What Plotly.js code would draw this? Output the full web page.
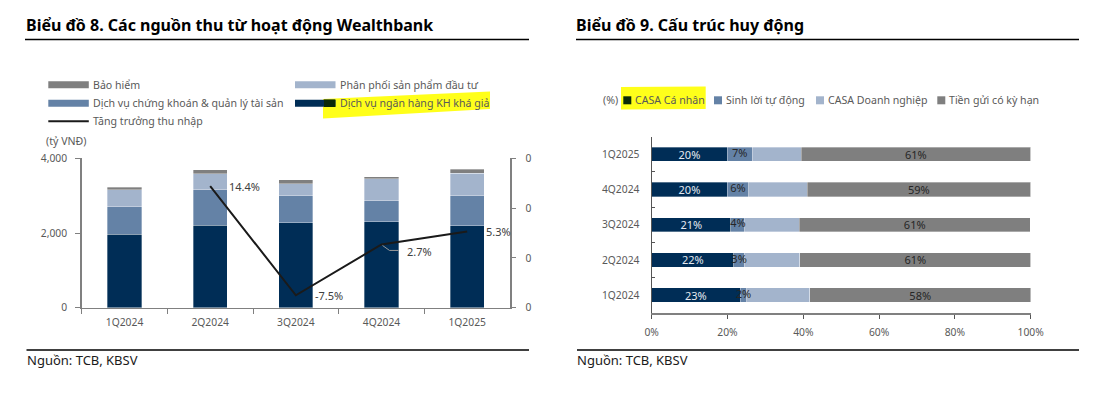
<!DOCTYPE html>
<html>
<head>
<meta charset="utf-8">
<script src="https://cdn.plot.ly/plotly-3.0.1.min.js"></script>
<style>
html,body{margin:0;padding:0;background:#ffffff;}
#chart{width:1095px;height:395px;}
</style>
</head>
<body>
<div id="chart"></div>
<script>
// ---------- Data: Biểu đồ 8 ----------
const quarters = ['1Q2024', '2Q2024', '3Q2024', '4Q2024', '1Q2025'];
const privateBanking = [1973, 2214, 2268, 2295, 2188];   // Dịch vụ ngân hàng KH khá giả
const securities = [733, 938, 723, 571, 812];             // Dịch vụ chứng khoán & quản lý tài sản
const distribution = [455, 437, 322, 580, 598];           // Phân phối sản phẩm đầu tư
const insurance = [62, 107, 107, 63, 107];                // Bảo hiểm
const incomeGrowth = [null, 14.4, -7.5, 2.7, 5.3];        // Tăng trưởng thu nhập (%)
const leftTicks = [0, 2000, 4000];
const rightTickVals = [-10, 0, 10, 20];
const rightTickText = ['0', '0', '0', '0'];
const names8 = {
  ins: 'Bảo hiểm',
  dist: 'Phân phối sản phẩm đầu tư',
  sec: 'Dịch vụ chứng khoán & quản lý tài sản',
  pb: 'Dịch vụ ngân hàng KH khá giả',
  growth: 'Tăng trưởng thu nhập'
};

// ---------- Data: Biểu đồ 9 ----------
const fundQuarters = ['1Q2024', '2Q2024', '3Q2024', '4Q2024', '1Q2025'];
const casaIndividual = [23.3, 21.7, 20.9, 19.9, 19.9];
const autoEarning = [1.8, 2.7, 3.7, 5.7, 6.6];
const casaCorporate = [16.6, 14.7, 14.3, 15.4, 12.9];
const termDeposits = [58.3, 60.9, 61.0, 59.0, 60.6];
const pctTicks = [0, 20, 40, 60, 80, 100];
const pctTickText = ['0%', '20%', '40%', '60%', '80%', '100%'];
const names9 = ['CASA Cá nhân', 'Sinh lời tự động', 'CASA Doanh nghiệp', 'Tiền gửi có kỳ hạn'];

// ---------- Styling ----------
const W = 1095, H = 395;
const px = x => x / W;
const py = y => 1 - y / H;
const C_DARK = '#002D56', C_MED = '#6482A6', C_LIGHT = '#A3B4CC', C_GRAY = '#7F7F7F';
const FONT = 'Noto Sans';
const TXT = '#595959';
const AXC = '#808080';
const FS = 10.3;
const LFS = 10.6;

const pctLabel = arr => arr.map(v => Math.round(v) + '%');
const segLine = {color: 'rgba(255,255,255,0.55)', width: 0.6};

const traces = [
  {type: 'bar', x: quarters, y: privateBanking, name: names8.pb, marker: {color: C_DARK, line: segLine}, width: 0.4, xaxis: 'x', yaxis: 'y', hoverinfo: 'skip'},
  {type: 'bar', x: quarters, y: securities, name: names8.sec, marker: {color: C_MED, line: segLine}, width: 0.4, xaxis: 'x', yaxis: 'y', hoverinfo: 'skip'},
  {type: 'bar', x: quarters, y: distribution, name: names8.dist, marker: {color: C_LIGHT, line: segLine}, width: 0.4, xaxis: 'x', yaxis: 'y', hoverinfo: 'skip'},
  {type: 'bar', x: quarters, y: insurance, name: names8.ins, marker: {color: C_GRAY, line: segLine}, width: 0.4, xaxis: 'x', yaxis: 'y', hoverinfo: 'skip'},
  {type: 'scatter', mode: 'lines', x: quarters, y: incomeGrowth, name: names8.growth, line: {color: '#1a1a1a', width: 2}, xaxis: 'x', yaxis: 'y2', hoverinfo: 'skip'},

  {type: 'bar', orientation: 'h', y: fundQuarters, x: casaIndividual, name: names9[0], marker: {color: C_DARK, line: segLine}, width: 0.405,
   text: pctLabel(casaIndividual), textposition: 'inside', insidetextanchor: 'middle', constraintext: 'none', textangle: 0,
   textfont: {family: FONT, size: 11, color: '#E4E9F0'}, xaxis: 'x2', yaxis: 'y3', hoverinfo: 'skip'},
  {type: 'bar', orientation: 'h', y: fundQuarters, x: autoEarning, name: names9[1], marker: {color: C_MED, line: segLine}, width: 0.405,
   textposition: 'none', xaxis: 'x2', yaxis: 'y3', hoverinfo: 'skip'},
  {type: 'bar', orientation: 'h', y: fundQuarters, x: casaCorporate, name: names9[2], marker: {color: C_LIGHT, line: segLine}, width: 0.405,
   textposition: 'none', xaxis: 'x2', yaxis: 'y3', hoverinfo: 'skip'},
  {type: 'bar', orientation: 'h', y: fundQuarters, x: termDeposits, name: names9[3], marker: {color: C_GRAY, line: segLine}, width: 0.405,
   text: pctLabel(termDeposits), textposition: 'inside', insidetextanchor: 'middle', constraintext: 'none', textangle: 0,
   textfont: {family: FONT, size: 11, color: '#262626'}, xaxis: 'x2', yaxis: 'y3', hoverinfo: 'skip'},
  // labels of the "Sinh lời tự động" segments, centred on each segment and drawn above neighbours
  {type: 'scatter', mode: 'text', y: fundQuarters, x: autoEarning.map((v, i) => casaIndividual[i] + v / 2),
   text: pctLabel(autoEarning), textposition: 'middle center', textfont: {family: FONT, size: 11, color: '#262626'},
   cliponaxis: false, xaxis: 'x2', yaxis: 'y3', hoverinfo: 'skip'}
];

const tickFont = {family: FONT, size: FS, color: TXT};

const layout = {
  width: W, height: H,
  margin: {l: 0, r: 0, t: 0, b: 0},
  paper_bgcolor: '#ffffff', plot_bgcolor: 'rgba(0,0,0,0)',
  barmode: 'stack',
  showlegend: false,
  font: {family: FONT, size: FS, color: TXT},
  xaxis: {
    domain: [px(81.7), px(510)], anchor: 'y', type: 'category', range: [-0.5, 4.5],
    categoryorder: 'array', categoryarray: quarters,
    showline: true, linecolor: AXC, linewidth: 1.5, showgrid: false, zeroline: false,
    ticks: 'outside', tickson: 'boundaries', ticklen: 5, tickcolor: AXC, tickwidth: 1,
    tickfont: tickFont, ticklabelstandoff: 4, fixedrange: true
  },
  yaxis: {
    domain: [py(307.7), py(158.3)], anchor: 'x', range: [0, 4000],
    tickmode: 'array', tickvals: leftTicks, tickformat: ',',
    showline: true, linecolor: AXC, linewidth: 1.5, showgrid: false, zeroline: false,
    ticks: 'outside', ticklen: 5, tickcolor: AXC, tickwidth: 1,
    tickfont: tickFont, ticklabelstandoff: 6, fixedrange: true
  },
  yaxis2: {
    overlaying: 'y', side: 'right', anchor: 'x', range: [-10, 20],
    tickmode: 'array', tickvals: rightTickVals, ticktext: rightTickText,
    showline: true, linecolor: AXC, linewidth: 1.5, showgrid: false, zeroline: false,
    ticks: 'outside', ticklen: 4, tickcolor: AXC, tickwidth: 1,
    tickfont: tickFont, ticklabelstandoff: 8, fixedrange: true
  },
  xaxis2: {
    domain: [px(651.7), px(1030.7)], anchor: 'y3', range: [0, 100],
    tickmode: 'array', tickvals: pctTicks, ticktext: pctTickText,
    showline: true, linecolor: AXC, linewidth: 2, showgrid: false, zeroline: false,
    ticks: 'outside', ticklen: 4, tickcolor: '#555555', tickwidth: 1,
    tickfont: tickFont, ticklabelstandoff: 5, fixedrange: true
  },
  yaxis3: {
    domain: [py(312.7), py(136.7)], anchor: 'x2', type: 'category', range: [-0.5, 4.5],
    categoryorder: 'array', categoryarray: fundQuarters,
    showline: true, linecolor: '#555555', linewidth: 1.2, showgrid: false, zeroline: false,
    ticks: 'inside', tickson: 'boundaries', ticklen: 3, tickcolor: '#555555', tickwidth: 1,
    tickfont: tickFont, ticklabelstandoff: 9, fixedrange: true
  },
  shapes: [],
  annotations: []
};

const S = layout.shapes, A = layout.annotations;

// Titles and rules
function hline(x0, x1, y, w) {
  S.push({type: 'line', xref: 'paper', yref: 'paper', x0: px(x0), x1: px(x1), y0: py(y), y1: py(y), line: {color: '#000000', width: w}});
}
hline(25, 529, 39.5, 1.4);
hline(576, 1079, 39.5, 1.4);
hline(26.5, 529, 350, 1.4);
hline(577, 1079, 350, 1.4);

function ptext(text, x, y, opts) {
  A.push(Object.assign({xref: 'paper', yref: 'paper', x: px(x), y: py(y), text: text, showarrow: false,
    xanchor: 'left', yanchor: 'middle', font: {family: FONT, size: LFS, color: TXT}}, opts || {}));
}
ptext('<b>Biểu đồ 8. Các nguồn thu từ hoạt động Wealthbank</b>', 24, 24.5, {font: {family: FONT, size: 16, color: '#000000'}});
ptext('<b>Biểu đồ 9. Cấu trúc huy động</b>', 574, 24.5, {font: {family: FONT, size: 16, color: '#000000'}});
ptext('Nguồn: TCB, KBSV', 25, 360, {font: {family: FONT, size: 13, color: '#1a1a1a'}});
ptext('Nguồn: TCB, KBSV', 574.5, 360, {font: {family: FONT, size: 13, color: '#1a1a1a'}});
ptext('(tỷ VNĐ)', 43.5, 141.3);

// Highlights (yellow marker)
function poly(pts, color) {
  const d = pts.map((p, i) => (i ? 'L' : 'M') + px(p[0]).toFixed(5) + ',' + py(p[1]).toFixed(5)).join(' ') + ' Z';
  S.push({type: 'path', xref: 'paper', yref: 'paper', path: d, fillcolor: color, line: {width: 0}, layer: 'above'});
}
poly([[323, 99], [490, 91.5], [490, 109], [323, 118.5]], '#FFFF1A');
poly([[621, 87], [705.7, 86.5], [705.7, 109], [621, 109.5]], '#FFFF1A');

// Legend – Biểu đồ 8
function rect(x0, x1, y0, y1, color) {
  S.push({type: 'rect', xref: 'paper', yref: 'paper', x0: px(x0), x1: px(x1), y0: py(y1), y1: py(y0), fillcolor: color, line: {width: 0}, layer: 'above'});
}
const leg8 = [
  {name: names8.ins, color: C_GRAY, x: 48.3, y: 84.7},
  {name: names8.dist, color: C_LIGHT, x: 295, y: 84.7},
  {name: names8.sec, color: C_MED, x: 48.3, y: 103.3},
  {name: names8.pb, color: C_DARK, x: 295, y: 103.3}
];
leg8.forEach(it => {
  rect(it.x, it.x + 40.5, it.y - 3.5, it.y + 3.5, it.color);
  ptext(it.name, it.x + 42.5, it.y);
});
rect(324, 335.3, 99.5, 107, '#0B2A08');
S.push({type: 'line', xref: 'paper', yref: 'paper', x0: px(48.3), x1: px(88.8), y0: py(121.3), y1: py(121.3), line: {color: '#1a1a1a', width: 2}, layer: 'above'});
ptext(names8.growth, 91.3, 121.3);

// Legend – Biểu đồ 9
ptext('(%)', 601, 100.3);
const leg9 = [
  {name: names9[0], color: '#0B2A08', x: 623.3},
  {name: names9[1], color: C_MED, x: 714},
  {name: names9[2], color: C_LIGHT, x: 816},
  {name: names9[3], color: C_GRAY, x: 937.3}
];
leg9.forEach(it => {
  rect(it.x, it.x + 8, 96.3, 104.3, it.color);
  ptext(it.name, it.x + 9.5, 100.3);
});

// Growth labels
incomeGrowth.forEach((v, i) => {
  if (v === null) return;
  const isLeader = quarters[i] === '4Q2024';
  A.push({xref: 'x', yref: 'y2', x: quarters[i], y: v, text: v.toFixed(1) + '%', showarrow: false,
    xanchor: 'left', yanchor: 'middle', xshift: isLeader ? 23 : 17, yshift: isLeader ? -7 : 0,
    font: {family: FONT, size: 11, color: '#404040'}});
  if (isLeader) {
    S.push({type: 'path', xref: 'x', yref: 'y2', xsizemode: 'pixel', ysizemode: 'pixel', xanchor: i, yanchor: v,
      path: 'M1,-1 L8,-6 L17,-6', line: {color: '#9a9a9a', width: 1}, layer: 'above'});
  }
});

Plotly.newPlot('chart', traces, layout, {staticPlot: true, displayModeBar: false});
</script>
</body>
</html>
